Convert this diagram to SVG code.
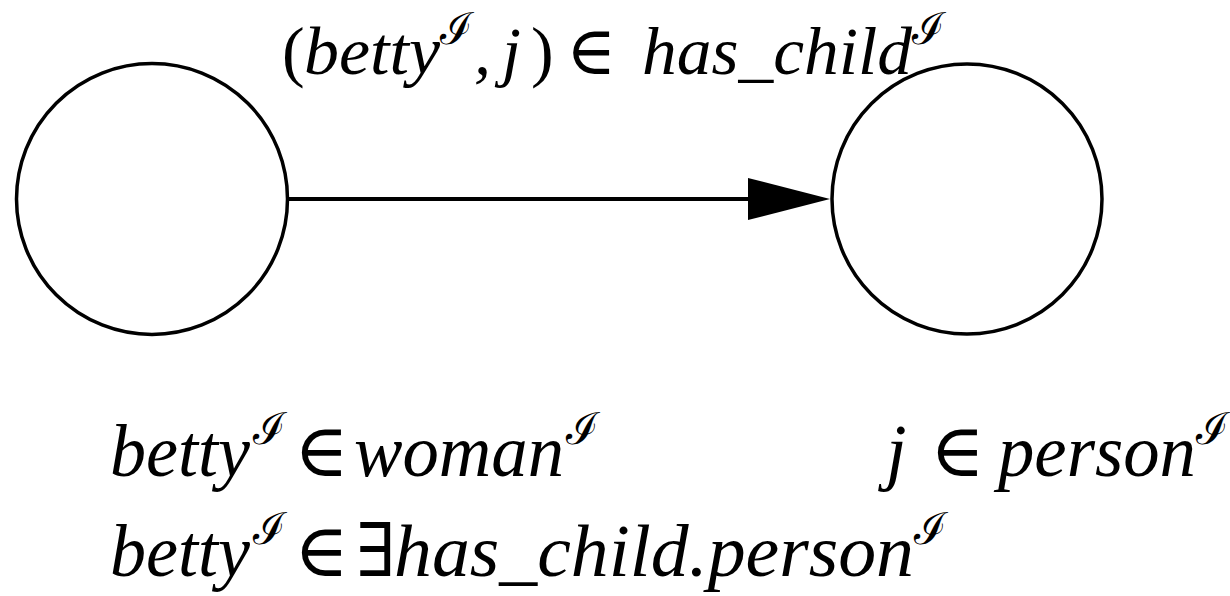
<svg xmlns="http://www.w3.org/2000/svg" width="1230" height="596" viewBox="0 0 1230 596">
<defs>
<style>
.node{fill:none;stroke:#000;stroke-width:3.5}
.edge{fill:none;stroke:#000;stroke-width:3.8}
.it{font-family:"Liberation Serif","DejaVu Serif",serif;font-style:italic;fill:#000}
.up{font-family:"Liberation Serif","DejaVu Serif",serif;fill:#000}
.cal{font-family:"DejaVu Serif","Liberation Serif",serif;fill:#000}
.t{font-size:68px}
.b{font-size:74px}
.s{font-size:44px}
</style>
<marker id="arrow" markerUnits="userSpaceOnUse" markerWidth="82" markerHeight="42" viewBox="0 0 82 42" refX="0" refY="21" orient="auto">
<path d="M0,0 L82,21 L0,42 Z" fill="#000"/>
</marker>
</defs>
<rect width="1230" height="596" fill="#fff"/>
<g id="connectors">
<path class="edge" d="M289,199 L748,199" marker-end="url(#arrow)"/>
</g>
<g id="node-betty">
<circle class="node" cx="152" cy="199" r="135.5"/>
</g>
<g id="node-j">
<circle class="node" cx="967" cy="199" r="135"/>
</g>
<g id="label-top">
<text class="up t" x="282" y="74">(</text>
<text class="it t" x="304" y="74" textLength="136" lengthAdjust="spacingAndGlyphs">betty</text>
<text class="cal s" x="440" y="44">ℐ</text>
<text class="it t" x="474" y="74">,</text>
<text class="it t" x="502" y="74">j</text>
<text class="up t" x="531" y="74">)</text>
<text class="up t" x="566" y="74">∈</text>
<text class="it t" x="642" y="74" textLength="270" lengthAdjust="spacingAndGlyphs">has_child</text>
<text class="cal s" x="912" y="44">ℐ</text>
</g>
<g id="label-bottom">
<text class="it b" x="110" y="476" textLength="140" lengthAdjust="spacingAndGlyphs">betty</text>
<text class="cal s" x="253" y="444">ℐ</text>
<text class="up b" x="294" y="476">∈</text>
<text class="it b" x="354" y="476" textLength="210" lengthAdjust="spacingAndGlyphs">woman</text>
<text class="cal s" x="566" y="444">ℐ</text>
<text class="it b" x="110" y="576" textLength="140" lengthAdjust="spacingAndGlyphs">betty</text>
<text class="cal s" x="253" y="544">ℐ</text>
<text class="up b" x="294" y="576">∈</text>
<text class="up b" x="356" y="576">∃</text>
<text class="it b" x="394" y="576" textLength="520" lengthAdjust="spacingAndGlyphs">has_child.person</text>
<text class="cal s" x="914" y="544">ℐ</text>
<text class="it b" x="886" y="476">j</text>
<text class="up b" x="930" y="476">∈</text>
<text class="it b" x="998" y="476" textLength="198" lengthAdjust="spacingAndGlyphs">person</text>
<text class="cal s" x="1196" y="444">ℐ</text>
</g>
</svg>
